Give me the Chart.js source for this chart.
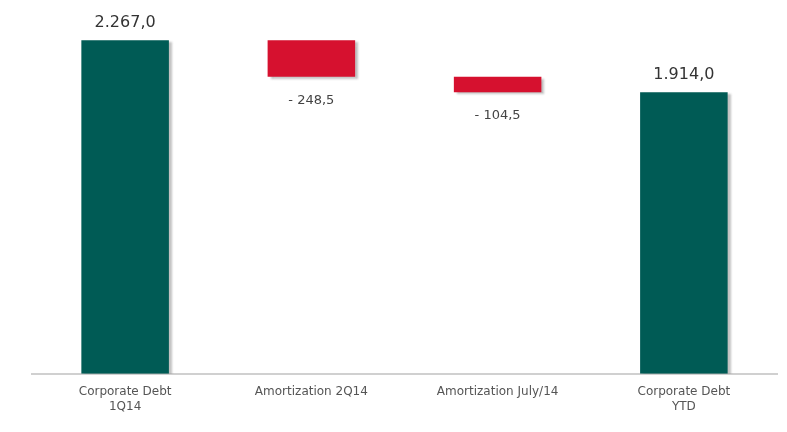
<!DOCTYPE html>
<html>
<head>
<meta charset="utf-8">
<script src="https://cdn.jsdelivr.net/npm/chart.js@4.4.0/dist/chart.umd.min.js"></script>
<style>
  html, body { margin: 0; padding: 0; background: #fff; }
  #wrap { width: 787px; height: 432px; }
</style>
</head>
<body>
<div id="wrap"><canvas id="divida"></canvas></div>
<script>
// categorias e valores (ponte da dívida corporativa)
const categorias = [['Corporate Debt', '1Q14'], 'Amortization 2Q14', 'Amortization July/14', ['Corporate Debt', 'YTD']];
const valores = [2267.0, -248.5, -104.5, 1914.0];
const totais = [true, false, false, true];

const corTotal = '#005b55';
const corAmort = '#d6112f';

// monta as barras flutuantes a partir dos valores
let acumulado = 0;
const faixas = valores.map((v, i) => {
  if (totais[i]) {
    acumulado = v;
    return [0, v];
  }
  const ini = acumulado;
  acumulado = acumulado + v;
  return [acumulado, ini];
});

function formatar(v) {
  const abs = Math.abs(v);
  const partes = abs.toFixed(1).split('.');
  const inteiro = partes[0].replace(/\B(?=(\d{3})+(?!\d))/g, '.');
  const txt = inteiro + ',' + partes[1];
  return v < 0 ? '- ' + txt : txt;
}

// sombra leve atrás das barras
const sombraBarras = {
  id: 'sombraBarras',
  beforeDatasetsDraw(chart) {
    const ctx = chart.ctx;
    ctx.save();
    ctx.shadowColor = 'rgba(120,120,120,0.45)';
    ctx.shadowOffsetX = 3;
    ctx.shadowOffsetY = 2;
    ctx.shadowBlur = 2;
  },
  afterDatasetsDraw(chart) {
    chart.ctx.restore();
  }
};

// rótulos de valor acima/abaixo das barras
const rotulos = {
  id: 'rotulos',
  afterDatasetsDraw(chart) {
    const ctx = chart.ctx;
    const meta = chart.getDatasetMeta(0);
    ctx.save();
    ctx.textAlign = 'center';
    meta.data.forEach((bar, i) => {
      const v = valores[i];
      if (totais[i]) {
        ctx.font = '16px "DejaVu Sans", Verdana, sans-serif';
        ctx.fillStyle = '#333';
        ctx.textBaseline = 'bottom';
        ctx.fillText(formatar(v), bar.x, bar.y - 9);
      } else {
        ctx.font = '13px "DejaVu Sans", Verdana, sans-serif';
        ctx.fillStyle = '#444';
        ctx.textBaseline = 'top';
        ctx.fillText(formatar(v), bar.x, bar.base + 17);
      }
    });
    ctx.restore();
  }
};

new Chart(document.getElementById('divida'), {
  type: 'bar',
  data: {
    labels: categorias,
    datasets: [{
      data: faixas,
      backgroundColor: valores.map((v, i) => totais[i] ? corTotal : corAmort),
      borderWidth: 0,
      borderSkipped: false,
      barPercentage: 0.94,
      categoryPercentage: 0.5
    }]
  },
  options: {
    responsive: true,
    maintainAspectRatio: false,
    animation: false,
    layout: { padding: { top: 6, left: 32, right: 10, bottom: 15 } },
    plugins: {
      legend: { display: false },
      tooltip: { enabled: false }
    },
    scales: {
      x: {
        grid: { display: false },
        border: { display: true, color: '#d0d0d0', width: 2 },
        ticks: {
          color: '#555',
          font: { family: '"DejaVu Sans", Verdana, sans-serif', size: 12, lineHeight: 1.3 },
          padding: 2,
          maxRotation: 0
        }
      },
      y: {
        display: false,
        min: 0,
        max: 2500
      }
    }
  },
  plugins: [sombraBarras, rotulos]
});
</script>
</body>
</html>
